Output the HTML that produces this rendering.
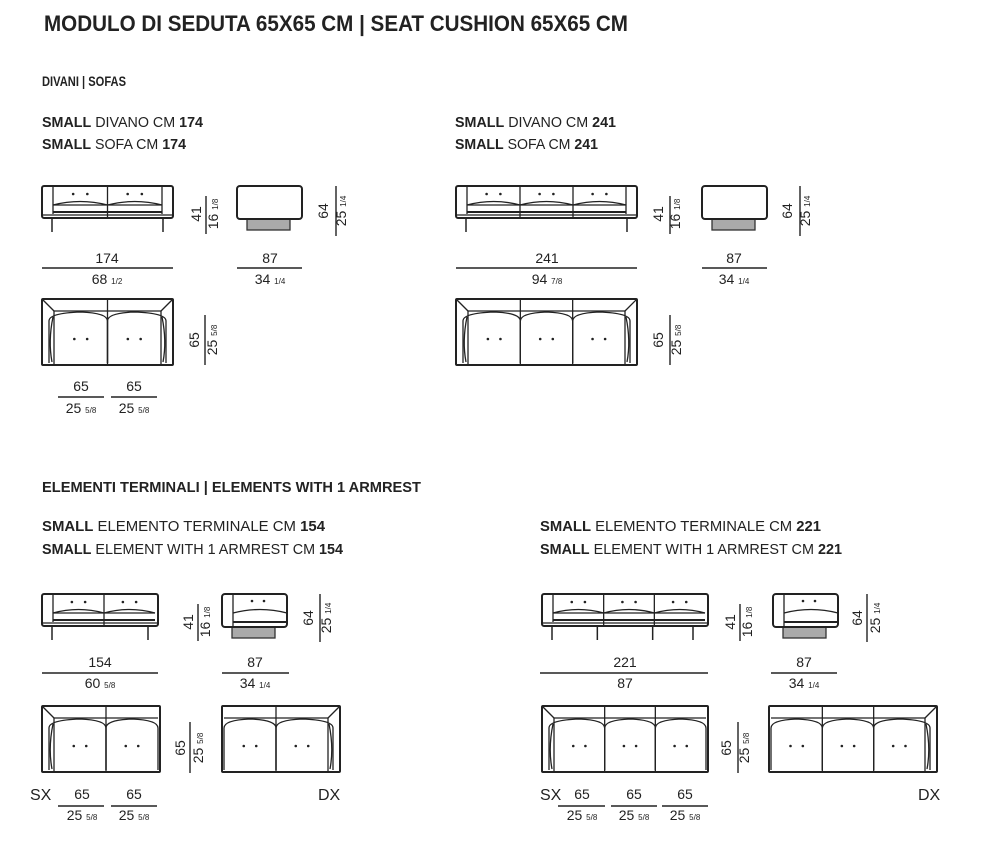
<!DOCTYPE html>
<html><head><meta charset="utf-8"><style>
html,body{margin:0;padding:0;background:#fff}
svg{display:block}
text{font-family:"Liberation Sans Narrow","Liberation Sans",sans-serif;fill:#222}
.b{font-weight:bold}
.d{font-size:14px}
.f{font-size:8px}
</style></head><body>
<svg id="s" width="1000" height="846" viewBox="0 0 1000 846" xmlns="http://www.w3.org/2000/svg">
<g id="gg" fill="none" stroke="#222" stroke-width="1.3"></g>
<text x="44" y="31" class="b" font-size="22" textLength="584" lengthAdjust="spacingAndGlyphs">MODULO DI SEDUTA 65X65 CM | SEAT CUSHION 65X65 CM</text>
<text x="42" y="86" class="b" font-size="14" textLength="84" lengthAdjust="spacingAndGlyphs">DIVANI | SOFAS</text>
<text x="42" y="127" font-size="15" textLength="161" lengthAdjust="spacingAndGlyphs"><tspan class="b">SMALL</tspan> DIVANO CM <tspan class="b">174</tspan></text>
<text x="42" y="149" font-size="15" textLength="144" lengthAdjust="spacingAndGlyphs"><tspan class="b">SMALL</tspan> SOFA CM <tspan class="b">174</tspan></text>
<text x="455" y="127" font-size="15" textLength="161" lengthAdjust="spacingAndGlyphs"><tspan class="b">SMALL</tspan> DIVANO CM <tspan class="b">241</tspan></text>
<text x="455" y="149" font-size="15" textLength="143" lengthAdjust="spacingAndGlyphs"><tspan class="b">SMALL</tspan> SOFA CM <tspan class="b">241</tspan></text>
<text x="42" y="492" class="b" font-size="15" textLength="379" lengthAdjust="spacingAndGlyphs">ELEMENTI TERMINALI | ELEMENTS WITH 1 ARMREST</text>
<text x="42" y="531" font-size="15" textLength="283" lengthAdjust="spacingAndGlyphs"><tspan class="b">SMALL</tspan> ELEMENTO TERMINALE CM <tspan class="b">154</tspan></text>
<text x="42" y="554" font-size="15" textLength="301" lengthAdjust="spacingAndGlyphs"><tspan class="b">SMALL</tspan> ELEMENT WITH 1 ARMREST CM <tspan class="b">154</tspan></text>
<text x="540" y="531" font-size="15" textLength="281" lengthAdjust="spacingAndGlyphs"><tspan class="b">SMALL</tspan> ELEMENTO TERMINALE CM <tspan class="b">221</tspan></text>
<text x="540" y="554" font-size="15" textLength="302" lengthAdjust="spacingAndGlyphs"><tspan class="b">SMALL</tspan> ELEMENT WITH 1 ARMREST CM <tspan class="b">221</tspan></text>

<g text-anchor="middle">
<text x="107" y="263" class="d">174</text><text x="107" y="284" class="d">68 <tspan class="f">1/2</tspan></text>
<text x="270" y="263" class="d">87</text><text x="270" y="284" class="d">34 <tspan class="f">1/4</tspan></text>
<text x="547" y="263" class="d">241</text><text x="547" y="284" class="d">94 <tspan class="f">7/8</tspan></text>
<text x="734" y="263" class="d">87</text><text x="734" y="284" class="d">34 <tspan class="f">1/4</tspan></text>
<text x="81" y="391" class="d">65</text><text x="81" y="413" class="d">25 <tspan class="f">5/8</tspan></text>
<text x="134" y="391" class="d">65</text><text x="134" y="413" class="d">25 <tspan class="f">5/8</tspan></text>
<text x="100" y="667" class="d">154</text><text x="100" y="688" class="d">60 <tspan class="f">5/8</tspan></text>
<text x="255" y="667" class="d">87</text><text x="255" y="688" class="d">34 <tspan class="f">1/4</tspan></text>
<text x="625" y="667" class="d">221</text><text x="625" y="688" class="d">87</text>
<text x="804" y="667" class="d">87</text><text x="804" y="688" class="d">34 <tspan class="f">1/4</tspan></text>
<text x="82" y="799" class="d">65</text><text x="82" y="820" class="d">25 <tspan class="f">5/8</tspan></text>
<text x="134" y="799" class="d">65</text><text x="134" y="820" class="d">25 <tspan class="f">5/8</tspan></text>
<text x="582" y="799" class="d">65</text><text x="582" y="820" class="d">25 <tspan class="f">5/8</tspan></text>
<text x="634" y="799" class="d">65</text><text x="634" y="820" class="d">25 <tspan class="f">5/8</tspan></text>
<text x="685" y="799" class="d">65</text><text x="685" y="820" class="d">25 <tspan class="f">5/8</tspan></text>
</g>
<text x="30" y="800" font-size="16">SX</text>
<text x="318" y="800" font-size="16">DX</text>
<text x="540" y="800" font-size="16">SX</text>
<text x="918" y="800" font-size="16">DX</text>

<g text-anchor="middle">
<text transform="translate(201,214) rotate(-90)" class="d">41</text><text transform="translate(218,214) rotate(-90)" class="d">16 <tspan class="f">1/8</tspan></text>
<text transform="translate(328,211) rotate(-90)" class="d">64</text><text transform="translate(346,211) rotate(-90)" class="d">25 <tspan class="f">1/4</tspan></text>
<text transform="translate(663,214) rotate(-90)" class="d">41</text><text transform="translate(680,214) rotate(-90)" class="d">16 <tspan class="f">1/8</tspan></text>
<text transform="translate(792,211) rotate(-90)" class="d">64</text><text transform="translate(810,211) rotate(-90)" class="d">25 <tspan class="f">1/4</tspan></text>
<text transform="translate(199,340) rotate(-90)" class="d">65</text><text transform="translate(217,340) rotate(-90)" class="d">25 <tspan class="f">5/8</tspan></text>
<text transform="translate(663,340) rotate(-90)" class="d">65</text><text transform="translate(681,340) rotate(-90)" class="d">25 <tspan class="f">5/8</tspan></text>
<text transform="translate(193,622) rotate(-90)" class="d">41</text><text transform="translate(210,622) rotate(-90)" class="d">16 <tspan class="f">1/8</tspan></text>
<text transform="translate(313,618) rotate(-90)" class="d">64</text><text transform="translate(331,618) rotate(-90)" class="d">25 <tspan class="f">1/4</tspan></text>
<text transform="translate(735,622) rotate(-90)" class="d">41</text><text transform="translate(752,622) rotate(-90)" class="d">16 <tspan class="f">1/8</tspan></text>
<text transform="translate(862,618) rotate(-90)" class="d">64</text><text transform="translate(880,618) rotate(-90)" class="d">25 <tspan class="f">1/4</tspan></text>
<text transform="translate(185,748) rotate(-90)" class="d">65</text><text transform="translate(203,748) rotate(-90)" class="d">25 <tspan class="f">5/8</tspan></text>
<text transform="translate(731,748) rotate(-90)" class="d">65</text><text transform="translate(749,748) rotate(-90)" class="d">25 <tspan class="f">5/8</tspan></text>
</g>
</svg>
<script>
(function(){
var G=document.getElementById('gg'),NS='http://www.w3.org/2000/svg';
function el(t,a){var e=document.createElementNS(NS,t);for(var k in a)e.setAttribute(k,a[k]);G.appendChild(e);return e;}
function L(x1,y1,x2,y2,w){el('line',{x1:x1,y1:y1,x2:x2,y2:y2,'stroke-width':w||1.3});}
function R(x,y,w,h,r,extra){var a={x:x,y:y,width:w,height:h,rx:r||0};for(var k in extra)a[k]=extra[k];el('rect',a);}
function dot(x,y){el('circle',{cx:x,cy:y,r:1.3,fill:'#222',stroke:'none'});}
function frontV(x,y,w,n,aL,aR){
  var h=32,a=11;R(x,y,w,h,2,{'stroke-width':2});
  var il=x+(aL?a:3),ir=x+w-(aR?a:3);
  if(aL)L(il,y,il,y+h-4);if(aR)L(ir,y,ir,y+h-4);
  var cw=(ir-il)/n;
  for(var i=0;i<n;i++){var cx=il+i*cw;
    if(i>0)L(cx,y+1,cx,y+h);
    dot(cx+cw*0.37,y+8);dot(cx+cw*0.63,y+8);
    el('path',{d:'M'+cx+' '+(y+19)+' Q'+(cx+cw/2)+' '+(y+12)+' '+(cx+cw)+' '+(y+19)});}
  L(il,y+19,ir,y+19);L(il,y+26,ir,y+26,2);L(x,y+h-3,x+w,y+h-3);
  var lx=[x+10,x+w-10];if(n==3&&(!aL||!aR)){lx=[x+10,x+w/3,x+2*w/3,x+w-15];}
  lx.forEach(function(p){L(p,y+h,p,y+h+14,1.5);});
}
function sideV(x,y,arm){
  var w=65,h=33;
  el('rect',{x:x+10,y:y+h,width:w-22,height:11,fill:'#aaa',stroke:'#333'});
  R(x,y,w,h,3,{'stroke-width':2,fill:'#fff'});
  if(arm){L(x+11,y,x+11,y+h);dot(x+30,y+7);dot(x+42,y+7);
    el('path',{d:'M'+(x+11)+' '+(y+19)+' Q'+(x+38)+' '+(y+12)+' '+(x+w)+' '+(y+19)});
    L(x+11,y+28,x+w,y+28,2);}
}
function topV(x,y,w,n,aL,aR){
  var h=66,a=12;R(x,y,w,h,1,{'stroke-width':2});
  var il=x+(aL?a:2),ir=x+w-(aR?a:2),cw=(ir-il)/n;
  L(il,y+12,ir,y+12);
  if(aL){L(x,y,il,y+12);L(il,y+12,il,y+h);}
  if(aR){L(x+w,y,ir,y+12);L(ir,y+12,ir,y+h);}
  for(var i=0;i<n;i++){var cx=il+i*cw;
    if(i>0)L(cx,y,cx,y+h);
    var lo=(i==0&&aL),ro=(i==n-1&&aR);
    var x1=cx+(lo?-5:0),x2=cx+cw+(ro?5:0);
    el('path',{d:'M'+x1+' '+(y+h-2)+' L'+x1+' '+(y+22)+' Q'+x1+' '+(y+14)+' '+(cx+cw/2)+' '+(y+13)+' Q'+x2+' '+(y+14)+' '+x2+' '+(y+22)+' L'+x2+' '+(y+h-2)});
    if(lo)el('path',{d:'M'+(x1+3)+' '+(y+h-3)+' Q'+(x1-1)+' '+(y+42)+' '+(x1+4)+' '+(y+18)});
    if(ro)el('path',{d:'M'+(x2-3)+' '+(y+h-3)+' Q'+(x2+1)+' '+(y+42)+' '+(x2-4)+' '+(y+18)});
    dot(cx+cw*0.38,y+40);dot(cx+cw*0.62,y+40);}
}
function vd(x,y1,y2){L(x,y1,x,y2,1.4);}
function hd(x1,x2,y){L(x1,y,x2,y,1.4);}
frontV(42,186,131,2,1,1);sideV(237,186,0);vd(206,196,234);vd(336,186,236);
hd(42,173,268);hd(237,302,268);
topV(42,299,131,2,1,1);vd(205,315,365);hd(58,104,397);hd(111,157,397);
frontV(456,186,181,3,1,1);sideV(702,186,0);vd(670,196,234);vd(800,186,236);
hd(456,637,268);hd(702,767,268);
topV(456,299,181,3,1,1);vd(670,315,365);
frontV(42,594,116,2,1,0);sideV(222,594,1);vd(198,604,641);vd(320,594,642);
hd(42,158,673);hd(222,289,673);
topV(42,706,118,2,1,0);topV(222,706,118,2,0,1);vd(190,722,773);
hd(58,104,806);hd(111,157,806);
frontV(542,594,166,3,1,0);sideV(773,594,1);vd(740,604,641);vd(867,594,642);
hd(540,708,673);hd(771,837,673);
topV(542,706,166,3,1,0);topV(769,706,168,3,0,1);vd(738,722,773);
hd(558,605,806);hd(611,657,806);hd(662,708,806);
})();
</script>
</body></html>
